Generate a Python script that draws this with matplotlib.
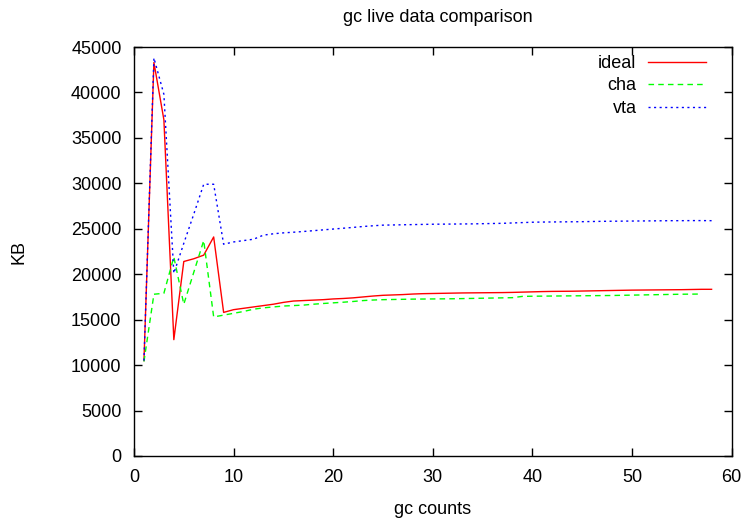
import matplotlib
matplotlib.use("Agg")
import matplotlib.pyplot as plt

plt.rcParams['font.family'] = ['Liberation Sans', 'DejaVu Sans']

ideal_x = list(range(1, 59))
ideal = [10500, 43300, 37000, 12800, 21400, 21700, 22100, 24100, 15800, 16100,
         16250, 16400, 16550, 16700, 16900, 17050, 17100, 17150, 17200, 17280,
         17330, 17400, 17500, 17600, 17680, 17720, 17760, 17820, 17860, 17880,
         17900, 17920, 17940, 17950, 17960, 17970, 17980, 18000, 18030, 18060,
         18090, 18110, 18120, 18130, 18150, 18170, 18190, 18210, 18230, 18250,
         18260, 18270, 18280, 18290, 18300, 18320, 18340, 18340]

cha_x = list(range(1, 58))
cha = [10400, 17800, 17900, 21900, 16700, 20200, 23700, 15300, 15500, 15700,
       15900, 16150, 16300, 16400, 16500, 16550, 16600, 16700, 16780, 16850,
       16920, 17000, 17100, 17160, 17200, 17220, 17240, 17260, 17270, 17280,
       17290, 17300, 17320, 17340, 17360, 17380, 17400, 17420, 17560, 17580,
       17590, 17600, 17610, 17620, 17630, 17640, 17650, 17660, 17680, 17700,
       17720, 17740, 17760, 17780, 17800, 17810, 17820]

vta_x = list(range(1, 59))
vta = [10500, 43800, 39800, 20100, 23400, 26600, 29900, 29900, 23300, 23550,
       23700, 23850, 24300, 24450, 24550, 24620, 24700, 24790, 24880, 24970,
       25060, 25150, 25250, 25330, 25400, 25420, 25440, 25460, 25480, 25500,
       25510, 25520, 25530, 25540, 25560, 25580, 25600, 25640, 25680, 25720,
       25740, 25750, 25760, 25770, 25780, 25800, 25820, 25830, 25840, 25850,
       25860, 25870, 25880, 25890, 25890, 25900, 25900, 25890]

xticks = [0, 10, 20, 30, 40, 50, 60]
yticks = [0, 5000, 10000, 15000, 20000, 25000, 30000, 35000, 40000, 45000]

FS = 13

fig = plt.figure(figsize=(7.49, 5.29), dpi=100)
ax = fig.add_axes([134/749, 1-456/529, (731.5-134)/749, (456-47)/529])

ax.plot(ideal_x, ideal, color='#ff0000', lw=1.0, linestyle='-', label='ideal')
ax.plot(cha_x, cha, color='#00ff00', lw=1.0, linestyle=(0, (4, 3)), label='cha')
ax.plot(vta_x, vta, color='#0000ff', lw=1.0, linestyle=(0, (1.5, 2.5)), label='vta')

ax.set_xlim(0, 60)
ax.set_ylim(0, 45000)
ax.set_xticks(xticks)
ax.set_yticks(yticks)
ax.tick_params(direction='in', length=6, width=1, top=True, right=True,
               labelsize=FS, pad=9)
for s in ax.spines.values():
    s.set_linewidth(1.0)

fig.text(438/749, 1-17/529, 'gc live data comparison', fontsize=FS,
         ha='center', va='center')
ax.set_xlabel('gc counts', fontsize=FS)
ax.set_ylabel('KB', fontsize=FS)
ax.xaxis.set_label_coords((433-134)/597.5, (456-501)/409)
ax.yaxis.set_label_coords((28-134)/597.5, 0.5)

ax.legend(loc='upper right', markerfirst=False, frameon=False, fontsize=FS,
          handlelength=3.2, handletextpad=0.65, labelspacing=0.3,
          borderaxespad=0, borderpad=0,
          bbox_to_anchor=((706-134)/597.5, 1-8/409))

fig.savefig('out.png', dpi=100)
